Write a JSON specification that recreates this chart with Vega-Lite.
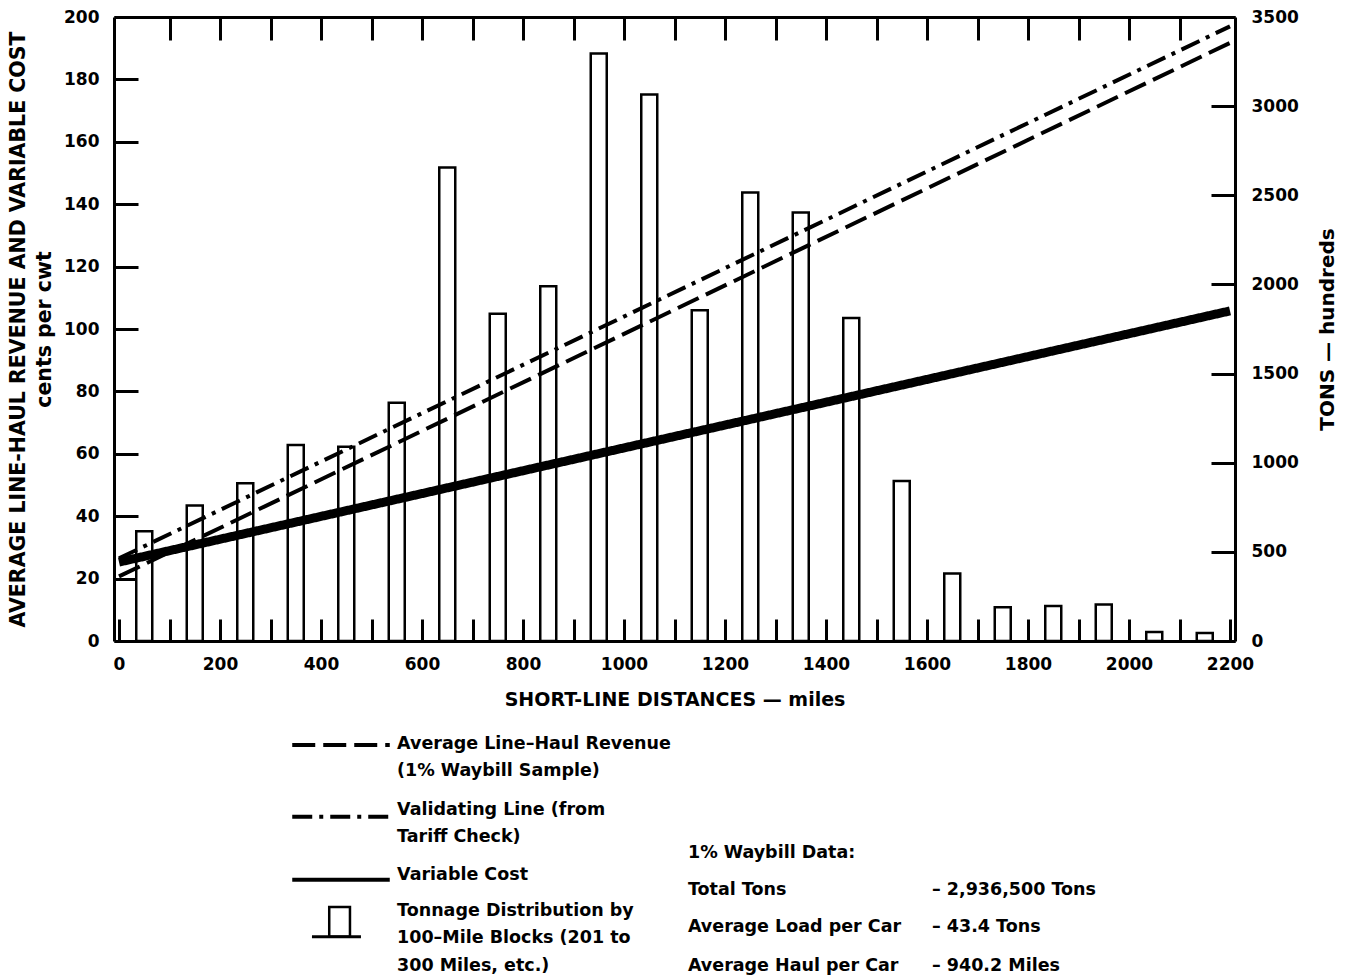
{
  "$schema": "https://vega.github.io/schema/vega-lite/v6.json",
  "padding": {"left": 8, "top": 8, "right": 5, "bottom": 0},
  "config": {
    "font": "DejaVu Sans",
    "view": {"stroke": null},
    "axis": {
      "grid": false,
      "domainColor": "black",
      "domainWidth": 3,
      "tickColor": "black",
      "tickWidth": 3,
      "labelColor": "black",
      "labelFont": "DejaVu Sans",
      "labelFontSize": 17,
      "labelFontWeight": "bold",
      "titleColor": "black",
      "titleFont": "DejaVu Sans",
      "titleFontWeight": "bold"
    },
    "text": {"font": "DejaVu Sans", "fontSize": 17.5, "fontWeight": "bold", "color": "black"}
  },
  "datasets": {
    "tonnage": [
      {"miles": 50, "tons": 615},
      {"miles": 150, "tons": 760},
      {"miles": 250, "tons": 885},
      {"miles": 350, "tons": 1100},
      {"miles": 450, "tons": 1090},
      {"miles": 550, "tons": 1336},
      {"miles": 650, "tons": 2656},
      {"miles": 750, "tons": 1836},
      {"miles": 850, "tons": 1990},
      {"miles": 950, "tons": 3295},
      {"miles": 1050, "tons": 3066},
      {"miles": 1150, "tons": 1855},
      {"miles": 1250, "tons": 2516},
      {"miles": 1350, "tons": 2404},
      {"miles": 1450, "tons": 1811},
      {"miles": 1550, "tons": 898},
      {"miles": 1650, "tons": 378},
      {"miles": 1750, "tons": 190},
      {"miles": 1850, "tons": 196},
      {"miles": 1950, "tons": 205},
      {"miles": 2050, "tons": 50},
      {"miles": 2150, "tons": 45}
    ],
    "costs": [
      {"series": "Average Line-Haul Revenue", "miles": 0, "cents": 20.7},
      {"series": "Average Line-Haul Revenue", "miles": 2200, "cents": 191.7},
      {"series": "Validating Line", "miles": 0, "cents": 26.5},
      {"series": "Validating Line", "miles": 2200, "cents": 197},
      {"series": "Variable Cost", "miles": 0, "cents": 25.3},
      {"series": "Variable Cost", "miles": 2200, "cents": 105.8}
    ],
    "keys": [
      {"series": "Average Line-Haul Revenue", "line": 0.05},
      {"series": "Validating Line", "line": 2.66},
      {"series": "Variable Cost", "line": 4.96}
    ],
    "notes": [
      {"block": "key", "line": 0, "text": "Average Line–Haul Revenue"},
      {"block": "key", "line": 1, "text": "(1% Waybill Sample)"},
      {"block": "key", "line": 2.4, "text": "Validating Line (from"},
      {"block": "key", "line": 3.4, "text": "Tariff Check)"},
      {"block": "key", "line": 4.8, "text": "Variable Cost"},
      {"block": "key", "line": 6.1, "text": "Tonnage Distribution by"},
      {"block": "key", "line": 7.1, "text": "100–Mile Blocks (201 to"},
      {"block": "key", "line": 8.1, "text": "300 Miles, etc.)"},
      {"block": "waybill", "line": 4, "text": "1% Waybill Data:"},
      {"block": "waybill", "line": 5.35, "text": "Total Tons"},
      {"block": "waybill", "line": 6.7, "text": "Average Load per Car"},
      {"block": "waybill", "line": 8.1, "text": "Average Haul per Car"},
      {"block": "figure", "line": 5.35, "text": "– 2,936,500 Tons"},
      {"block": "figure", "line": 6.7, "text": "– 43.4 Tons"},
      {"block": "figure", "line": 8.1, "text": "– 940.2 Miles"}
    ]
  },
  "spacing": 21,
  "vconcat": [
    {
      "width": 1121,
      "height": 624,
      "layer": [
        {
          "data": {"name": "tonnage"},
          "mark": {"type": "bar", "size": 16, "fill": "white", "stroke": "black", "strokeWidth": 2.5},
          "encoding": {
            "x": {
              "field": "miles",
              "type": "quantitative",
              "scale": {"domain": [0, 2200], "nice": false, "zero": false},
              "axis": {
                "orient": "bottom",
                "values": [0, 100, 200, 300, 400, 500, 600, 700, 800, 900, 1000, 1100, 1200, 1300, 1400, 1500, 1600, 1700, 1800, 1900, 2000, 2100, 2200],
                "format": "d",
                "labelExpr": "datum.value % 200 === 0 ? datum.label : ''",
                "tickSize": -22,
                "labelPadding": 37,
                "labelFlush": false,
                "title": "SHORT-LINE DISTANCES — miles",
                "titleFontSize": 19,
                "titlePadding": 18
              }
            },
            "y": {
              "field": "tons",
              "type": "quantitative",
              "scale": {"domain": [0, 3500], "nice": false},
              "axis": {
                "orient": "right",
                "values": [0, 500, 1000, 1500, 2000, 2500, 3000, 3500],
                "format": "d",
                "tickSize": -24,
                "labelPadding": 40,
                "labelFlush": false,
                "title": "TONS — hundreds",
                "titleAngle": 270,
                "titleBaseline": "top",
                "titleFontSize": 20,
                "titlePadding": 19
              }
            }
          }
        },
        {
          "data": {"name": "costs"},
          "mark": {"type": "line", "strokeCap": "butt", "color": "black"},
          "encoding": {
            "x": {
              "field": "miles",
              "type": "quantitative",
              "scale": {"domain": [0, 2200], "nice": false, "zero": false},
              "axis": {
                "orient": "top",
                "values": [100, 200, 300, 400, 500, 600, 700, 800, 900, 1000, 1100, 1200, 1300, 1400, 1500, 1600, 1700, 1800, 1900, 2000, 2100],
                "labels": false,
                "tickSize": -23,
                "title": null
              }
            },
            "y": {
              "field": "cents",
              "type": "quantitative",
              "scale": {"domain": [0, 200], "nice": false},
              "axis": {
                "orient": "left",
                "values": [0, 20, 40, 60, 80, 100, 120, 140, 160, 180, 200],
                "tickSize": -24,
                "labelPadding": 39,
                "labelFlush": false,
                "title": ["AVERAGE LINE-HAUL REVENUE AND VARIABLE COST", "cents per cwt"],
                "titleFontSize": 20.5,
                "titleLineHeight": 26,
                "titlePadding": 9
              }
            },
            "strokeDash": {
              "field": "series",
              "type": "nominal",
              "scale": {
                "domain": ["Average Line-Haul Revenue", "Validating Line", "Variable Cost"],
                "range": [[23, 8], [20, 7, 4, 7], [1, 0]]
              },
              "legend": null
            },
            "strokeWidth": {
              "condition": {"test": "datum.series === 'Variable Cost'", "value": 9},
              "value": 4
            }
          }
        }
      ],
      "resolve": {"scale": {"y": "independent"}}
    },
    {
      "width": 1121,
      "height": 240,
      "layer": [
        {
          "data": {"name": "keys"},
          "mark": {"type": "rule", "strokeWidth": 4, "color": "black", "strokeCap": "butt"},
          "encoding": {
            "x": {"datum": 15.9, "type": "quantitative", "scale": {"domain": [0, 100], "nice": false, "zero": false}, "axis": null},
            "x2": {"datum": 24.6},
            "y": {"field": "line", "type": "quantitative", "scale": {"domain": [-0.5, 8.25], "reverse": true, "nice": false, "zero": false}, "axis": null},
            "strokeDash": {"field": "series", "type": "nominal", "legend": null}
          }
        },
        {
          "data": {"values": [{"symbol": "Tonnage Distribution"}]},
          "mark": {"type": "rect", "fill": null, "stroke": "black", "strokeWidth": 2.5},
          "encoding": {
            "x": {"datum": 19.2},
            "x2": {"datum": 21.05},
            "y": {"datum": 5.95},
            "y2": {"datum": 7.04}
          }
        },
        {
          "data": {"values": [{"symbol": "Tonnage Distribution"}]},
          "mark": {"type": "rule", "stroke": "black", "strokeWidth": 3},
          "encoding": {
            "x": {"datum": 17.66},
            "x2": {"datum": 22.03},
            "y": {"datum": 7.04}
          }
        },
        {
          "data": {"name": "notes"},
          "transform": [{"filter": "datum.block === 'key'"}],
          "mark": {"type": "text", "align": "left", "baseline": "middle"},
          "encoding": {
            "x": {"datum": 25.25},
            "y": {"field": "line", "type": "quantitative"},
            "text": {"field": "text"}
          }
        },
        {
          "data": {"name": "notes"},
          "transform": [{"filter": "datum.block === 'waybill'"}],
          "mark": {"type": "text", "align": "left", "baseline": "middle"},
          "encoding": {
            "x": {"datum": 51.2},
            "y": {"field": "line", "type": "quantitative"},
            "text": {"field": "text"}
          }
        },
        {
          "data": {"name": "notes"},
          "transform": [{"filter": "datum.block === 'figure'"}],
          "mark": {"type": "text", "align": "left", "baseline": "middle"},
          "encoding": {
            "x": {"datum": 72.97},
            "y": {"field": "line", "type": "quantitative"},
            "text": {"field": "text"}
          }
        }
      ]
    }
  ]
}
